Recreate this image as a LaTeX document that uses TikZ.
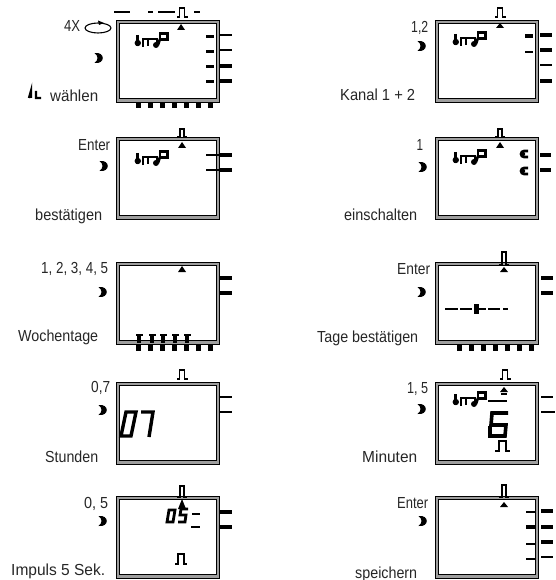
\documentclass[tikz,border=0pt]{standalone}
\usepackage{fontspec}
\usepackage{graphicx}
\setmainfont{Liberation Sans}
\definecolor{framegray}{gray}{0.62}
\tikzset{
  lab/.style={inner sep=0pt,anchor=base west,font=\fontsize{16}{17}\selectfont,text=black!85},
  tk/.style={line width=2pt,black},
  tkb/.style={line width=3.8pt,black},
  seg/.style={line width=3pt,black},
  pulse/.style={line width=1.7pt,black,line cap=butt},
}
% label: name, left x, right x, baseline y, text
\newcommand{\lab}[5]{\node[lab] (#1) at (#2,#4) {\resizebox{\dimexpr#3pt-#2pt\relax}{\height}{#5}};}
% display frame
\newcommand{\panel}[2]{%
  \fill[black] (#1,#2) rectangle ++(104,83);
  \fill[framegray] (#1+1.2,#2+1.2) rectangle ++(101.6,80.4);
  \fill[black] (#1+3,#2+3) rectangle ++(98,76);
  \fill[white] (#1+4.2,#2+4.2) rectangle ++(95.6,73.6);
}
\newcommand{\moon}[2]{\fill[black] (#1-4.5,#2-5) .. controls (#1+6.5,#2-6.5) and (#1+6.5,#2+6.5) .. (#1-4.5,#2+5) .. controls (#1-0.5,#2+2) and (#1-0.5,#2-2) .. cycle;}
\newcommand{\puls}[4]{\draw[pulse] (#1-5,#3) -- (#1-2.5,#3) -- (#1-2.5,#2) -- (#1+2.5,#2) -- (#1+2.5,#3) -- (#1+#4,#3);}
\newcommand{\narrowpuls}[3]{\draw[pulse] (#1-5,#3) -- (#1-2,#3) -- (#1-2,#2) -- (#1+2,#2) -- (#1+2,#3) -- (#1+5,#3);}
\newcommand{\tri}[3]{\fill[black] (#1-4,#3) -- (#1,#2) -- (#1+4,#3) -- cycle;}
% the "inP" mark, origin at upper left
\newcommand{\inp}[2]{\begin{scope}[shift={(#1,#2)}]
  \fill (2.8,11) circle (3.2);
  \draw[line width=2.6pt] (2.2,3) -- (2.2,14);
  \draw[line width=2.6pt] (8,15) -- (8,7) -- (13,7) -- (13,14);
  \draw[line width=2.6pt] (13,7) -- (22,7) -- (22,12);
  \fill (21,13) circle (3);
  \draw[line width=2.6pt] (25,1.5) rectangle (32.5,7.5);
  \draw[line width=2.6pt] (25,7) -- (23,13);
\end{scope}}
\newcommand{\bticks}[2]{\foreach \k in {0,...,6}{\fill[black] (#1+\k*12,#2) rectangle ++(5,6);}}
\newcommand{\eshape}[2]{\draw[line width=2.6pt] (#1+8,#2-3) -- (#1+4,#2-3) arc (270:90:3) -- (#1+8,#2+3);\fill (#1+3,#2) circle (2.2);}
\begin{document}
\begin{tikzpicture}[x=1pt,y=-1pt]
\useasboundingbox (0,0) rectangle (555,580);
% ---------- frames
\panel{116}{20}\panel{116}{137}\panel{116}{262}\panel{116}{382}\panel{116}{496}
\panel{435}{20}\panel{435}{137}\panel{435}{262}\panel{435}{382}\panel{435}{496}
% ---------- panel L1
\draw[line width=2.6pt] (114,12) -- (130,12) (148,12) -- (153,12) (158,12) -- (175,12) (194,12) -- (200,12);
\puls{182}{8}{17}{6}
\tri{181}{24}{30}
\inp{135}{32}
\foreach \y in {37,52,67,82}{\draw[seg] (206,\y) -- (214,\y);}
\draw[tk] (220,35) -- (232,35); \draw[tk] (220,50) -- (232,50);
\draw[tkb] (220,66) -- (232,66); \draw[tkb] (220,81) -- (232,81);
\bticks{136}{102}
\draw[line width=1.1pt] (98,28) ellipse (13 and 5);
\fill (98,20.5) -- (104,23) -- (99,25) -- cycle;
\moon{99}{58}
\draw[line width=2.4pt] (29,98) -- (31,91) -- (31,98) (36,91) -- (36,98) -- (41,98);
\lab{a1}{64}{80}{32}{4X}
\lab{a2}{50}{98}{102}{wählen}
% ---------- panel L2
\narrowpuls{182}{129}{137}
\tri{182}{142}{148}
\inp{135}{150}
\draw[tkb] (220,155) -- (232,155); \draw[tkb] (220,170) -- (232,170);
\draw[tk] (206,155) -- (220,155); \draw[tk] (206,170) -- (220,170);
\moon{104}{166}
\lab{b1}{78}{110}{151}{Enter}
\lab{b2}{35}{102}{220}{bestätigen}
% ---------- panel L3
\tri{182}{266}{272}
\draw[tkb] (220,278) -- (232,278); \draw[tkb] (220,293) -- (232,293);
\bticks{136}{345}
\foreach \x in {139,152,163,175,187}{\fill (\x-3.5,334) rectangle ++(7,2.4); \fill (\x-1.8,334) rectangle ++(3.6,9);}
\moon{103}{292}
\lab{c1}{41}{108}{273}{1, 2, 3, 4, 5}
\lab{c2}{18}{98}{341}{Wochentage}
% ---------- panel L4
\puls{182}{370}{379}{6}
\draw[tk] (220,397) -- (232,397); \draw[tk] (220,412) -- (232,412);
\draw[line width=3.4pt] (126,412) -- (136,412) -- (131,436) -- (121,436) -- cycle;
\draw[line width=3.4pt] (141,412) -- (153,412) -- (149,437);
\moon{103}{410}
\lab{d1}{91}{110}{392}{0,7}
\lab{d2}{45}{98}{462}{Stunden}
% ---------- panel L5
\narrowpuls{182}{486}{497}
\tri{182}{499}{509}
\draw[line width=2.8pt] (169,510) -- (175,510) -- (173,522) -- (167,522) -- cycle;
\draw[line width=2.8pt] (188,509) -- (181,509) -- (180,515) -- (186,515) -- (185,522) -- (178,522);
\draw[line width=2pt] (192,514) -- (200,514) (191,527) -- (200,527);
\draw[pulse,line width=2.6pt] (175,564) -- (178,564) -- (178,554) -- (184,554) -- (184,564) -- (187,564);
\draw[tkb] (220,512) -- (232,512); \draw[tkb] (220,527) -- (232,527);
\moon{103}{521}
\lab{e1}{84}{108}{508}{0, 5}
\lab{e2}{11}{105}{575}{Impuls 5 Sek.}
% ---------- panel R1
\puls{500}{8}{17}{6}
\tri{500}{23}{28}
\inp{453}{31}
\draw[tkb] (525,36) -- (533,36); \draw[tk] (525,52) -- (533,52);
\draw[tkb] (540,35) -- (552,35); \draw[tkb] (540,50) -- (552,50);
\draw[tk] (540,65) -- (552,65); \draw[tkb] (540,81) -- (552,81);
\moon{422}{46}
\lab{f1}{411}{428}{33}{1,2}
\lab{f2}{340}{415}{101}{Kanal 1 + 2}
% ---------- panel R2
\narrowpuls{500}{129}{137}
\tri{500}{142}{148}
\inp{453}{149}
\eshape{520}{154}
\eshape{520}{171}
\draw[tkb] (540,155) -- (551,155); \draw[tkb] (540,170) -- (551,170);
\moon{423}{167}
\lab{g1}{416.5}{423}{150}{1}
\lab{g2}{344}{417}{220}{einschalten}
% ---------- panel R3
\narrowpuls{504}{252}{265}
\tri{504}{267}{272}
\draw[line width=2pt] (445,309) -- (458,309) (460,309) -- (472,309) (474,309) -- (486,309) (488,309) -- (500,309) (503,309) -- (508,309);
\fill (474,304) rectangle ++(4.5,10);
\draw[tkb] (541,278) -- (553,278); \draw[tkb] (541,293) -- (553,293);
\bticks{457}{345}
\moon{422}{292}
\lab{h1}{397}{430}{274}{Enter}
\lab{h2}{317}{418}{342}{Tage bestätigen}
% ---------- panel R4
\puls{505}{370}{379}{6}
\tri{504}{387}{392}
\inp{453}{391}
\draw[line width=2pt] (488,401) -- (507,401);
\draw[line width=2pt] (501,394) -- (507,394);
\draw[line width=3.6pt] (508,413) -- (492,413) -- (491,425) -- (506,425) -- (505,436) -- (490,436) -- (490,426);
\draw[pulse,line width=2.6pt] (495,451) -- (499,451) -- (499,441) -- (506,441) -- (506,451) -- (510,451);
\draw[tk] (541,397) -- (553,397); \draw[tk] (541,412) -- (555,412);
\moon{422}{409}
\lab{i1}{407}{428}{393}{1, 5}
\lab{i2}{362}{417}{462}{Minuten}
% ---------- panel R5
\narrowpuls{504}{485}{497}
\tri{504}{502}{507}
\draw[tk] (526,512) -- (535,512); \draw[tkb] (526,527) -- (535,527);
\draw[tk] (526,544) -- (535,544); \draw[tk] (526,559) -- (535,559);
\draw[tkb] (541,511) -- (553,511); \draw[tkb] (541,527) -- (553,527);
\draw[tkb] (541,542) -- (553,542); \draw[tk] (541,557) -- (553,557);
\moon{423}{521}
\lab{j1}{397}{428}{508}{Enter}
\lab{j2}{355}{417}{578}{speichern}
\end{tikzpicture}
\end{document}
